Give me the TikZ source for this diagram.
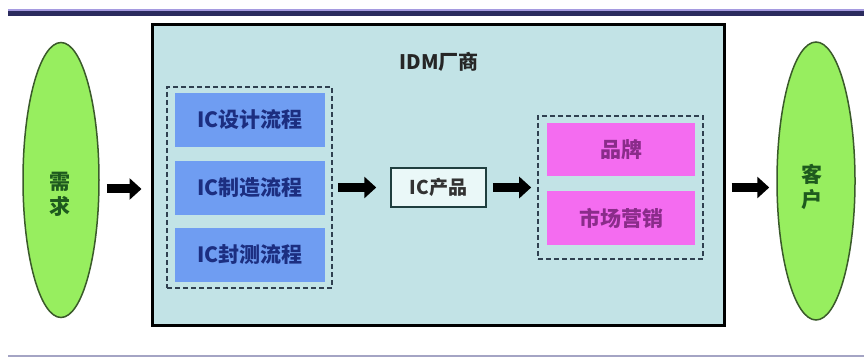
\documentclass[tikz,border=0pt]{standalone}
\usepackage{fontspec}
\setmainfont{Noto Sans CJK SC}
\usetikzlibrary{arrows.meta,shapes.geometric}
\definecolor{navy}{HTML}{2B2B5E}
\definecolor{lav}{HTML}{A59AE0}
\definecolor{botline}{HTML}{A4A4C4}
\definecolor{idmfill}{HTML}{C2E3E6}
\definecolor{bluebox}{HTML}{6F9DF2}
\definecolor{bluetext}{HTML}{1C2E80}
\definecolor{pinkbox}{HTML}{F46CF0}
\definecolor{pinktext}{HTML}{8A2C8A}
\definecolor{prodfill}{HTML}{EAF8F8}
\definecolor{prodline}{HTML}{1F3F3F}
\definecolor{ellfill}{HTML}{97EE5F}
\definecolor{elline}{HTML}{3A5A2A}
\definecolor{elltext}{HTML}{1E5A1E}
\definecolor{dashline}{HTML}{2F4050}
\tikzset{
  x=1pt, y=-1pt,
  bluestep/.style={rectangle, fill=bluebox, minimum width=150pt, minimum height=54pt,
    inner sep=0pt, text=bluetext, font=\bfseries\fontsize{21}{24}\selectfont},
  pinkstep/.style={rectangle, fill=pinkbox, minimum width=148pt, minimum height=53pt,
    inner sep=0pt, text=pinktext, font=\bfseries\fontsize{21}{24}\selectfont},
  groupbox/.style={rectangle, draw=dashline, line width=1.6pt, dash pattern=on 5pt off 3pt,
    inner sep=0pt},
  endell/.style={ellipse, fill=ellfill, draw=elline, line width=1.5pt, inner sep=0pt},
  elllabel/.style={text=elltext, font=\bfseries\fontsize{21}{25}\selectfont, align=center, inner sep=0pt},
  bigarrow/.style={line width=9pt, -{Triangle[length=12pt, width=21pt]}, draw=black},
}
\begin{document}
\begin{tikzpicture}
\useasboundingbox (0,0) rectangle (864,358);
\fill[white] (0,0) rectangle (864,358);
% top and bottom rules
\fill[navy] (8,10) rectangle (864,16);
\draw[lav, line width=1.2pt] (8,10) -- (864,10);
\draw[botline, line width=2pt] (8,356) -- (864,356);

% main IDM box
\node[rectangle, draw=black, line width=3pt, fill=idmfill, minimum width=572pt, minimum height=300pt, inner sep=0pt] (idm) at (438,175) {};
\node[font=\bfseries\fontsize{20}{24}\selectfont, text=black!85] (title) at (439,62) {IDM厂商};

% left group
\node[groupbox, minimum width=165pt, minimum height=201pt] (grp1) at (249.5,187.5) {};
\node[bluestep] (design) at (250,120) {IC设计流程};
\node[bluestep] (manuf) at (250,188) {IC制造流程};
\node[bluestep] (test) at (250,255) {IC封测流程};

% product
\node[rectangle, draw=prodline, line width=1.5pt, fill=prodfill, minimum width=95pt, minimum height=39pt, inner sep=0pt, font=\bfseries\fontsize{19}{22}\selectfont, text=black!80] (prod) at (438.5,187.5) {IC产品};

% right group
\node[groupbox, minimum width=165pt, minimum height=143pt] (grp2) at (620.5,187.5) {};
\node[pinkstep] (brand) at (621,149.5) {品牌};
\node[pinkstep] (market) at (621,218) {市场营销};

% ellipses
\node[endell, minimum width=76pt, minimum height=275pt] (demand) at (61,180) {};
\node[elllabel] (demandtxt) at (60,194) {需\\求};
\node[endell, minimum width=78pt, minimum height=278pt] (client) at (816,181) {};
\node[elllabel] (clienttxt) at (812,187) {客\\户};

% arrows
\draw[bigarrow, shorten <=7pt, shorten >=9pt] ([yshift=-9pt]demand.east) -- ([yshift=-9pt]demand.east -| idm.west);
\draw[bigarrow, shorten <=5pt, shorten >=14pt] (grp1.east |- prod.west) -- (prod.west);
\draw[bigarrow, shorten <=6pt, shorten >=6pt] (prod.east) -- (grp2.west |- prod.east);
\draw[bigarrow, shorten <=6pt, shorten >=7pt] (idm.east |- prod.east) -- (client.west |- prod.east);
\end{tikzpicture}
\end{document}
